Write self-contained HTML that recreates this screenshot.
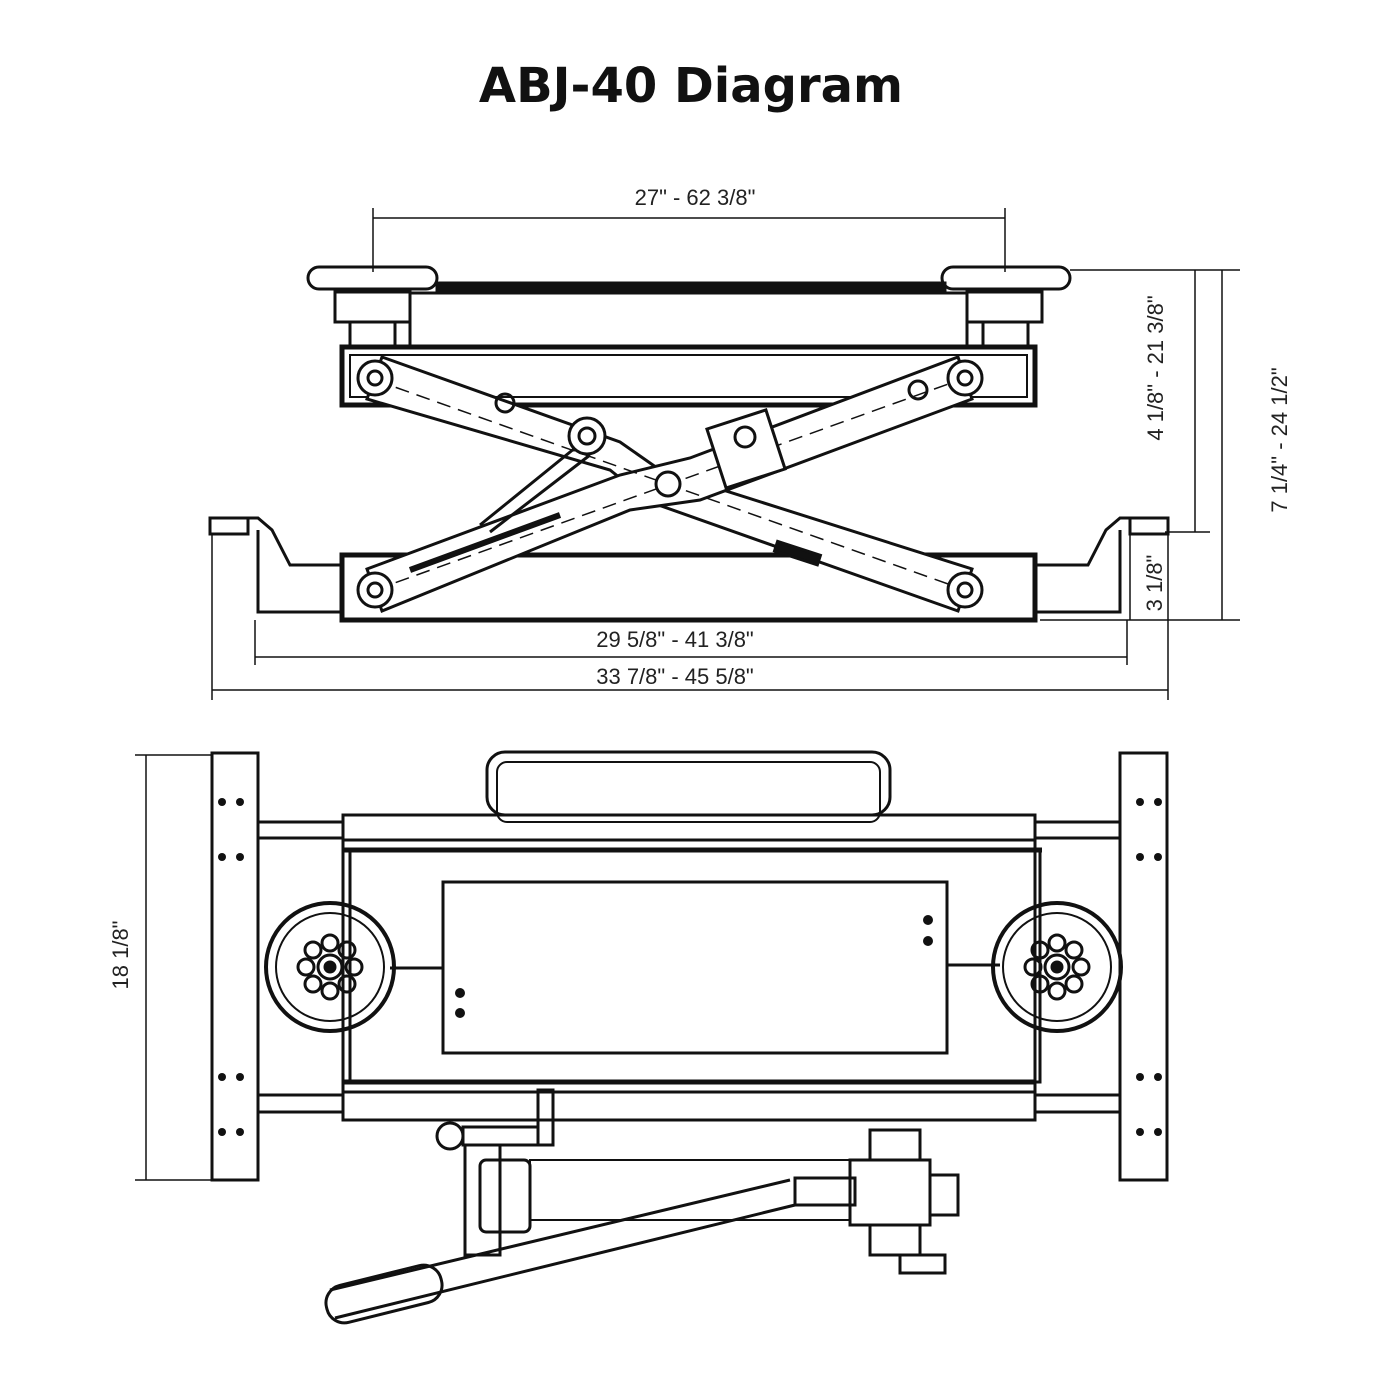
<!DOCTYPE html>
<html><head><meta charset="utf-8"><style>
html,body{margin:0;padding:0;background:#fff}
svg{display:block}
text{font-family:"Liberation Sans",sans-serif;fill:#222}
</style></head><body>
<svg width="1400" height="1400" viewBox="0 0 1400 1400" xmlns="http://www.w3.org/2000/svg">
<rect width="1400" height="1400" fill="#fff"/>
<text x="691" y="102" text-anchor="middle" font-size="48" font-weight="bold" style="font-family:'DejaVu Sans','Liberation Sans',sans-serif;fill:#111">ABJ-40 Diagram</text>

<g stroke="#111" fill="none" stroke-width="3">
<g stroke-width="1.5">
<line x1="373" y1="208" x2="373" y2="272"/><line x1="1005" y1="208" x2="1005" y2="272"/>
<line x1="373" y1="218" x2="1005" y2="218"/>
<line x1="1070" y1="270" x2="1240" y2="270"/>
<line x1="1165" y1="532" x2="1210" y2="532"/>
<line x1="1040" y1="620" x2="1240" y2="620"/>
<line x1="1195" y1="270" x2="1195" y2="532"/>
<line x1="1222" y1="270" x2="1222" y2="620"/>
<line x1="1130" y1="532" x2="1130" y2="620"/>
<line x1="255" y1="620" x2="255" y2="665"/><line x1="1127" y1="620" x2="1127" y2="665"/>
<line x1="212" y1="535" x2="212" y2="700"/><line x1="1168" y1="535" x2="1168" y2="700"/>
<line x1="255" y1="657" x2="1127" y2="657"/>
<line x1="212" y1="690" x2="1168" y2="690"/>
<line x1="146" y1="755" x2="146" y2="1180"/>
<line x1="135" y1="755" x2="212" y2="755"/><line x1="135" y1="1180" x2="212" y2="1180"/>
</g>
<rect x="308" y="267" width="129" height="22" rx="11"/>
<rect x="942" y="267" width="128" height="22" rx="11"/>
<rect x="335" y="292" width="75" height="30"/><rect x="350" y="322" width="45" height="25"/>
<rect x="967" y="292" width="75" height="30"/><rect x="983" y="322" width="45" height="25"/>
<rect x="437" y="283" width="508" height="10" fill="#111"/>
<rect x="410" y="293" width="557" height="54"/>
<rect x="342" y="347" width="693" height="58" stroke-width="5"/>
<rect x="350" y="355" width="677" height="42" stroke-width="2"/>
<rect x="342" y="555" width="693" height="65" stroke-width="5"/>
<path d="M210 518 H258 L272 530 L290 565 H342 M342 612 H258 V530"/>
<path d="M1168 518 H1120 L1106 530 L1088 565 H1035 M1035 612 H1120 V530"/>
<rect x="210" y="518" width="38" height="16"/>
<rect x="1130" y="518" width="38" height="16"/>
<!-- scissor arms -->
<path d="M367 399 L382 357 L620 442 L660 470 L972 569 L958 611 L650 502 L610 470 Z" fill="#fff"/>
<path d="M382 611 L367 569 L620 475 L690 458 L958 357 L972 399 L700 500 L630 510 Z" fill="#fff"/>
<line x1="375" y1="380" x2="965" y2="590" stroke-dasharray="14 8" stroke-width="1.5"/>
<line x1="375" y1="590" x2="965" y2="378" stroke-dasharray="14 8" stroke-width="1.5"/>
<circle cx="375" cy="378" r="17" fill="#fff"/><circle cx="375" cy="378" r="7"/>
<circle cx="965" cy="378" r="17" fill="#fff"/><circle cx="965" cy="378" r="7"/>
<circle cx="375" cy="590" r="17" fill="#fff"/><circle cx="375" cy="590" r="7"/>
<circle cx="965" cy="590" r="17" fill="#fff"/><circle cx="965" cy="590" r="7"/>
<circle cx="668" cy="484" r="12" fill="#fff"/><circle cx="505" cy="403" r="9"/><circle cx="918" cy="390" r="9"/>
<circle cx="587" cy="436" r="18" fill="#fff"/><circle cx="587" cy="436" r="8"/>
<rect x="715" y="418" width="62" height="62" transform="rotate(-18 746 449)" fill="#fff"/>
<circle cx="745" cy="437" r="10"/>
<path d="M575 448 L480 525 M590 455 L490 532" stroke-width="3"/>
<rect x="775" y="548" width="45" height="10" fill="#111" transform="rotate(18 797 553)"/>
<path d="M410 570 L560 515" stroke-width="6"/>

<!-- plan view -->
<rect x="212" y="753" width="46" height="427"/>
<rect x="1120" y="753" width="47" height="427"/>
<rect x="487" y="752" width="403" height="63" rx="18"/>
<rect x="497" y="762" width="383" height="60" rx="10" stroke-width="2"/>
<rect x="258" y="822" width="85" height="16"/><rect x="1035" y="822" width="85" height="16"/>
<rect x="258" y="1095" width="85" height="17"/><rect x="1035" y="1095" width="85" height="17"/>
<rect x="343" y="815" width="692" height="305"/>
<line x1="343" y1="840" x2="1035" y2="840"/><line x1="343" y1="850" x2="1042" y2="850" stroke-width="5"/>
<line x1="343" y1="1082" x2="1035" y2="1082" stroke-width="5"/><line x1="343" y1="1092" x2="1035" y2="1092"/>
<rect x="350" y="850" width="690" height="232"/>
<rect x="443" y="882" width="504" height="171"/>
<line x1="390" y1="968" x2="443" y2="968"/><line x1="947" y1="965" x2="1000" y2="965"/>
<g>
<circle cx="330" cy="967" r="64" stroke-width="4"/>
<circle cx="330" cy="967" r="54" stroke-width="2"/>
<circle cx="330" cy="967" r="12"/><circle cx="330" cy="967" r="5" fill="#111"/>
<circle cx="330" cy="943" r="8"/><circle cx="330" cy="991" r="8"/><circle cx="306" cy="967" r="8"/><circle cx="354" cy="967" r="8"/>
<circle cx="313" cy="950" r="8"/><circle cx="347" cy="950" r="8"/><circle cx="313" cy="984" r="8"/><circle cx="347" cy="984" r="8"/>
</g>
<g transform="translate(727,0)">
<circle cx="330" cy="967" r="64" stroke-width="4"/>
<circle cx="330" cy="967" r="54" stroke-width="2"/>
<circle cx="330" cy="967" r="12"/><circle cx="330" cy="967" r="5" fill="#111"/>
<circle cx="330" cy="943" r="8"/><circle cx="330" cy="991" r="8"/><circle cx="306" cy="967" r="8"/><circle cx="354" cy="967" r="8"/>
<circle cx="313" cy="950" r="8"/><circle cx="347" cy="950" r="8"/><circle cx="313" cy="984" r="8"/><circle cx="347" cy="984" r="8"/>
</g>
<circle cx="450" cy="1136" r="13"/>
<rect x="463" y="1127" width="75" height="18"/>
<rect x="538" y="1090" width="15" height="55"/>
<rect x="465" y="1145" width="35" height="110"/>
<rect x="480" y="1160" width="50" height="72" rx="6"/>
<rect x="530" y="1160" width="320" height="60" stroke-width="2"/>
<rect x="870" y="1130" width="50" height="30"/>
<rect x="850" y="1160" width="80" height="65"/>
<rect x="930" y="1175" width="28" height="40"/>
<rect x="870" y="1225" width="50" height="30"/>
<rect x="900" y="1255" width="45" height="18"/>
<rect x="795" y="1178" width="60" height="27"/>
<path d="M330 1290 L790 1180 M335 1318 L795 1205" stroke-width="3"/>
<rect x="325" y="1275" width="118" height="38" rx="18" transform="rotate(-14 384 1294)"/>
</g>
<g fill="#111">
<circle cx="222" cy="802" r="4"/><circle cx="240" cy="802" r="4"/><circle cx="222" cy="857" r="4"/><circle cx="240" cy="857" r="4"/>
<circle cx="222" cy="1077" r="4"/><circle cx="240" cy="1077" r="4"/><circle cx="222" cy="1132" r="4"/><circle cx="240" cy="1132" r="4"/>
<circle cx="1140" cy="802" r="4"/><circle cx="1158" cy="802" r="4"/><circle cx="1140" cy="857" r="4"/><circle cx="1158" cy="857" r="4"/>
<circle cx="1140" cy="1077" r="4"/><circle cx="1158" cy="1077" r="4"/><circle cx="1140" cy="1132" r="4"/><circle cx="1158" cy="1132" r="4"/>
<circle cx="928" cy="920" r="5"/><circle cx="928" cy="941" r="5"/>
<circle cx="460" cy="993" r="5"/><circle cx="460" cy="1013" r="5"/>
</g>
<g font-size="22">
<text x="695" y="205" text-anchor="middle">27" - 62 3/8"</text>
<text x="675" y="647" text-anchor="middle">29 5/8" - 41 3/8"</text>
<text x="675" y="684" text-anchor="middle">33 7/8" - 45 5/8"</text>
<text transform="translate(1163 368) rotate(-90)" text-anchor="middle">4 1/8" - 21 3/8"</text>
<text transform="translate(1287 440) rotate(-90)" text-anchor="middle">7 1/4" - 24 1/2"</text>
<text transform="translate(1162 583) rotate(-90)" text-anchor="middle">3 1/8"</text>
<text transform="translate(128 955) rotate(-90)" text-anchor="middle">18 1/8"</text>
</g>
</svg>
</body></html>
